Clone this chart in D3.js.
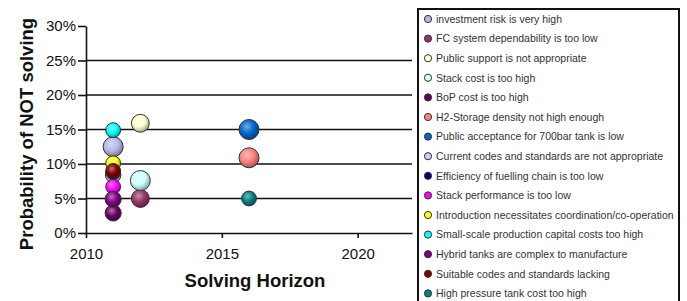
<!DOCTYPE html>
<meta charset="utf-8">
<script src="https://cdn.jsdelivr.net/npm/d3@7"></script>
<style>
    body { margin: 0; background: #fff; }
    text { font-family: "Liberation Sans", Arial, sans-serif; }
    .tick text { font-size: 15px; fill: #111; }
    .legend text { font-size: 10.5px; fill: #333; }
</style>
<body>
<script>

    // chart data
    var names = [
        "investment risk is very high",
        "FC system dependability is too low",
        "Public support is not appropriate",
        "Stack cost is too high",
        "BoP cost is too high",
        "H2-Storage density not high enough",
        "Public acceptance for 700bar tank is low",
        "Current codes and standards are not appropriate",
        "Efficiency of fuelling chain is too low",
        "Stack performance is too low",
        "Introduction necessitates coordination/co-operation",
        "Small-scale production capital costs too high",
        "Hybrid tanks are complex to manufacture",
        "Suitable codes and standards lacking",
        "High pressure tank cost too high"
    ];
    var colors = ["#b8b8e6", "#993366", "#ffffcc", "#ccffff", "#660066", "#ff8080", "#0066cc",
        "#ccccff", "#000080", "#ff00ff", "#ffff00", "#00ffff", "#800080", "#800000", "#008080"];
    var years = [2011, 2012, 2012, 2012, 2011, 2016, 2016, 2011, 2011, 2011, 2011, 2011, 2011, 2011, 2016];
    var probs = [0.125, 0.05, 0.159, 0.076, 0.029, 0.109, 0.15, 0.084, 0.088, 0.067, 0.101, 0.149, 0.049, 0.09, 0.05];
    var weights = [4, 3.2, 3.2, 4, 2.6, 4, 4, 2.4, 2.2, 2.2, 2.2, 2.2, 2.6, 2.2, 2.2];
    var yTicks = [0, 0.05, 0.10, 0.15, 0.20, 0.25, 0.30];
    var xTicks = [2010, 2015, 2020];

    var width = 687, height = 301;

    var svg = d3.select("body").append("svg")
        .attr("width", width)
        .attr("height", height);

    var x = d3.scaleLinear().domain([2010, 2022]).range([86, 412]);
    var y = d3.scaleLinear().domain([0, 0.3]).range([233, 26]);
    var r = d3.scaleSqrt().domain([0, 4]).range([0, 10]);

    // gradients for the shaded bubbles
    var defs = svg.append("defs");
    colors.forEach(function (c, i) {
        var g = defs.append("radialGradient")
            .attr("id", "grad" + i)
            .attr("cx", "40%").attr("cy", "35%").attr("r", "65%");
        g.append("stop").attr("offset", "0%").attr("stop-color", d3.interpolateRgb(c, "#fff")(0.45));
        g.append("stop").attr("offset", "55%").attr("stop-color", c);
        g.append("stop").attr("offset", "100%").attr("stop-color", d3.interpolateRgb(c, "#000")(0.35));
    });

    // horizontal gridlines
    svg.append("g")
        .selectAll("line")
        .data(yTicks.filter(function (d) { return d > 0 && d < 0.3; }))
        .enter()
        .append("line")
        .attr("x1", x(2010)).attr("x2", x(2022))
        .attr("y1", function (d) { return y(d); })
        .attr("y2", function (d) { return y(d); })
        .attr("stroke", "#111")
        .attr("stroke-width", 1.6);

    // axes
    var yAxis = svg.append("g")
        .attr("transform", "translate(" + x(2010) + ",0)")
        .call(d3.axisLeft(y).tickValues(yTicks).tickFormat(d3.format(".0%"))
            .tickSize(8).tickPadding(2).tickSizeOuter(0));

    var xAxis = svg.append("g")
        .attr("transform", "translate(0," + y(0) + ")")
        .call(d3.axisBottom(x).tickValues(xTicks).tickFormat(d3.format("d"))
            .tickSize(5).tickPadding(10).tickSizeOuter(0));

    svg.selectAll(".domain, .tick line")
        .attr("stroke", "#111")
        .attr("stroke-width", 1.6);

    // axis titles
    svg.append("text")
        .text("Solving Horizon")
        .attr("x", 255).attr("y", 287)
        .attr("text-anchor", "middle")
        .style("font-size", "18.5px")
        .style("font-weight", "bold")
        .style("fill", "#111");

    svg.append("text")
        .text("Probability of NOT solving")
        .attr("transform", "translate(33,134) rotate(-90)")
        .attr("text-anchor", "middle")
        .style("font-size", "18.5px")
        .style("font-weight", "bold")
        .style("fill", "#111");

    // bubbles
    var points = names.map(function (n, i) {
        return { name: n, i: i, year: years[i], p: probs[i], w: weights[i] };
    });

    svg.append("g")
        .selectAll("circle")
        .data(points)
        .enter()
        .append("circle")
        .attr("cx", function (d) { return x(d.year); })
        .attr("cy", function (d) { return y(d.p); })
        .attr("r", function (d) { return r(d.w); })
        .attr("fill", function (d) { return "url(#grad" + d.i + ")"; })
        .attr("stroke", "#333")
        .attr("stroke-width", 1);

    // legend
    var legend = svg.append("g").attr("class", "legend");

    legend.append("rect")
        .attr("x", 418).attr("y", 9)
        .attr("width", 261).attr("height", 300)
        .attr("fill", "#fff")
        .attr("stroke", "#111")
        .attr("stroke-width", 2);

    var item = legend.selectAll("g.item")
        .data(points)
        .enter()
        .append("g")
        .attr("class", "item")
        .attr("transform", function (d) { return "translate(0," + (19 + d.i * 19.6) + ")"; });

    item.append("circle")
        .attr("cx", 428).attr("cy", 0).attr("r", 3.6)
        .attr("fill", function (d) { return colors[d.i]; })
        .attr("stroke", "#333")
        .attr("stroke-width", 1);

    item.append("text")
        .text(function (d) { return d.name; })
        .attr("x", 436).attr("y", 0)
        .attr("dy", "0.36em");

</script>
</body>
